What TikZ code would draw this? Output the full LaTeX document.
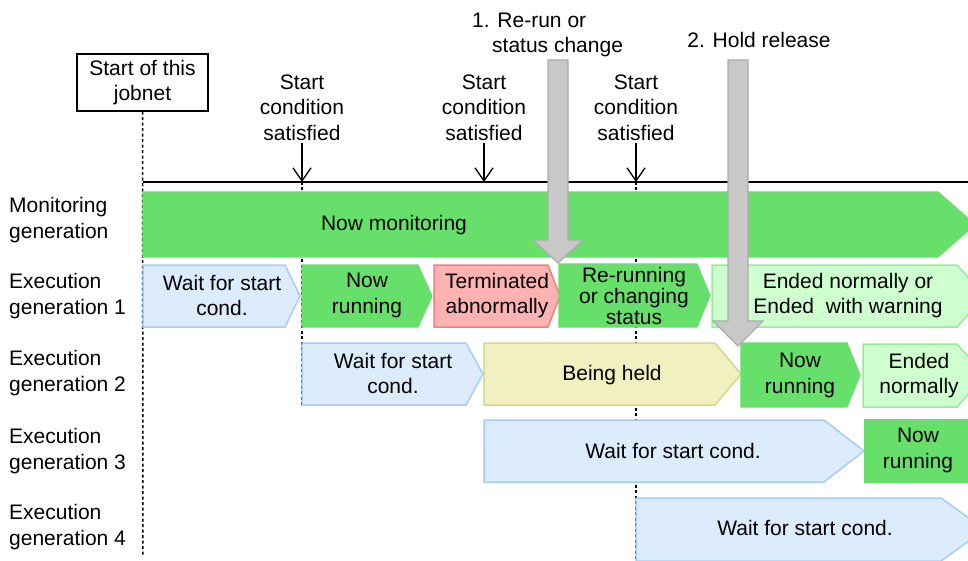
\documentclass[tikz,border=0pt]{standalone}
\usepackage{fontspec}
\setmainfont{Liberation Sans}
\usetikzlibrary{arrows.meta}
\definecolor{grn}{RGB}{102,224,106}
\definecolor{bluef}{RGB}{220,236,252}
\definecolor{blued}{RGB}{165,205,248}
\definecolor{pinkf}{RGB}{255,178,178}
\definecolor{pinkd}{RGB}{240,128,128}
\definecolor{yelf}{RGB}{240,240,192}
\definecolor{yeld}{RGB}{214,214,140}
\definecolor{lgf}{RGB}{206,255,206}
\definecolor{lgd}{RGB}{150,236,150}
\definecolor{grayf}{RGB}{200,200,200}
\definecolor{grayd}{RGB}{172,172,172}
% style, x1, xshoulder, xtip, ytop, ybot, ymid
\newcommand\stbox[7]{\filldraw[#1] (#2,#5) -- (#3,#5) -- (#4,#7) -- (#3,#6) -- (#2,#6) -- cycle;}
\begin{document}
\begin{tikzpicture}[x=1pt,y=-1pt,
  every node/.style={font=\fontsize{21}{25.5}\selectfont, align=center, inner sep=0pt},
  greenbox/.style={fill=grn, draw=grn, line width=1.2pt},
  bluebox/.style={fill=bluef, draw=blued, line width=1.5pt},
  pinkbox/.style={fill=pinkf, draw=pinkd, line width=1.5pt},
  yelbox/.style={fill=yelf, draw=yeld, line width=1.5pt},
  lgbox/.style={fill=lgf, draw=lgd, line width=1.5pt},
  grayarrow/.style={fill=grayf, draw=grayd, line width=1.2pt},
  dashline/.style={line width=1.5pt, dash pattern=on 3pt off 2.5pt},
  condarrow/.style={line width=1.3pt, -{Straight Barb[length=13pt,width=18pt,line width=1.3pt]}},
  rowlabel/.style={anchor=west, align=left}]
\useasboundingbox (0,0) rectangle (968,561);

% top labels
\node[draw, line width=1.3pt, minimum width=131pt, minimum height=57pt] (startjob) at (142.5,82.5) {Start of this\\jobnet};
\node (cond1) at (302,107.5) {Start\\condition\\satisfied};
\node (cond2) at (484,107.5) {Start\\condition\\satisfied};
\node (cond3) at (636,107.5) {Start\\condition\\satisfied};
\node[anchor=west, align=left] (lab1) at (472,35) {1. Re-run or\\\hspace*{20pt}status change};
\node (lab2) at (759,40) {2. Hold release};

% coordinates on timeline
\coordinate (t0) at (143,182);
\coordinate (tend) at (968,182);
\coordinate (c1top) at (302,143);
\coordinate (c1) at (302,182);
\coordinate (c2top) at (484,143);
\coordinate (c2) at (484,182);
\coordinate (c3top) at (636,143);
\coordinate (c3) at (636,182);

% dashed lines
\draw[dashline] (startjob.south) -- (143,557);
\draw[dashline] (c1) -- (302,405);
\draw[dashline] (c3) -- (636,561);

% timeline
\draw[line width=1.5pt] (t0) -- (tend);
\draw[condarrow] (c1top) -- (c1);
\draw[condarrow] (c2top) -- (c2);
\draw[condarrow] (c3top) -- (c3);

% row labels
\node[rowlabel] (rl0) at (9,220) {Monitoring\\generation};
\node[rowlabel] (rl1) at (9,296) {Execution\\generation 1};
\node[rowlabel] (rl2) at (9,373) {Execution\\generation 2};
\node[rowlabel] (rl3) at (9,451) {Execution\\generation 3};
\node[rowlabel] (rl4) at (9,527) {Execution\\generation 4};

% monitoring bar
\stbox{greenbox}{143}{938}{975}{192}{257}{224.5}
\node (mon) at (394,225.5) {Now monitoring};

% execution generation 1
\stbox{bluebox}{143}{285}{300}{265}{327}{296}
\node (g1a) at (222,295.5) {Wait for start\\cond.};
\stbox{greenbox}{302}{418}{432}{265}{327}{296}
\node (g1b) at (367,295.5) {Now\\running};
\stbox{pinkbox}{434}{548}{560}{265}{327}{296}
\node (g1c) at (497,295.5) {Terminated\\abnormally};
\stbox{greenbox}{559}{697}{710}{264}{327}{295.5}
\node[font=\fontsize{21}{21}\selectfont] (g1d) at (634,295.5) {Re-running\\or changing\\status};
\stbox{lgbox}{712}{957}{985}{265}{327}{296}
\node (g1e) at (848,295.5) {Ended normally or\\Ended\ \ with warning};

% execution generation 2
\stbox{bluebox}{302}{466}{483}{343}{405}{374}
\node (g2a) at (393,373.5) {Wait for start\\cond.};
\stbox{yelbox}{484}{715}{741}{343}{405}{374}
\node (g2b) at (612,375) {Being held};
\stbox{greenbox}{741}{847}{860}{343}{407}{375}
\node (g2c) at (800,375.5) {Now\\running};
\stbox{lgbox}{863}{957}{985}{344}{407}{375.5}
\node (g2d) at (919,375.5) {Ended\\normally};

% execution generation 3
\stbox{bluebox}{484}{824}{864}{420}{482}{451}
\node (g3a) at (673,451) {Wait for start cond.};
\stbox{greenbox}{865}{975}{975}{420}{482}{451}
\node (g3b) at (918,450.5) {Now\\running};

% execution generation 4
\stbox{bluebox}{636}{941}{985}{498}{561}{529.5}
\node (g4a) at (805,528) {Wait for start cond.};

% gray arrows
\filldraw[grayarrow] (548,60) -- (568,60) -- (568,240) -- (583,240) -- (558,263) -- (533,240) -- (548,240) -- cycle;
\filldraw[grayarrow] (728,60) -- (748,60) -- (748,321) -- (763,321) -- (738,346) -- (713,321) -- (728,321) -- cycle;
\end{tikzpicture}
\end{document}
